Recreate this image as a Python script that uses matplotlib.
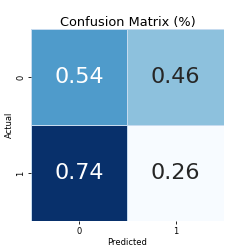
import numpy as np
import matplotlib
matplotlib.use('Agg')
import seaborn as sns
from matplotlib import pyplot as plt

labels = ['0', '1']
cm = np.array([[0.54, 0.46],
               [0.74, 0.26]])

fig = plt.figure(figsize=(2.49, 2.49), dpi=100)
ax = fig.add_axes([0.1245, 0.1124, 0.775, 0.771])
sns.heatmap(cm, annot=True, fmt='.2f', cmap='Blues', cbar=False,
            linewidths=0.5, linecolor='#c6dbef',
            xticklabels=labels, yticklabels=labels,
            annot_kws={'fontsize': 16}, ax=ax)
ax.set_title('Confusion Matrix (%)', fontsize=9.3, pad=2.5)
ax.set_xlabel('Predicted', fontsize=6, labelpad=1.5)
ax.set_ylabel('Actual', fontsize=6, labelpad=1.5)
ax.tick_params(labelsize=6, length=2.5, pad=1.5, width=0.6)
plt.savefig('out.png', dpi=100)
